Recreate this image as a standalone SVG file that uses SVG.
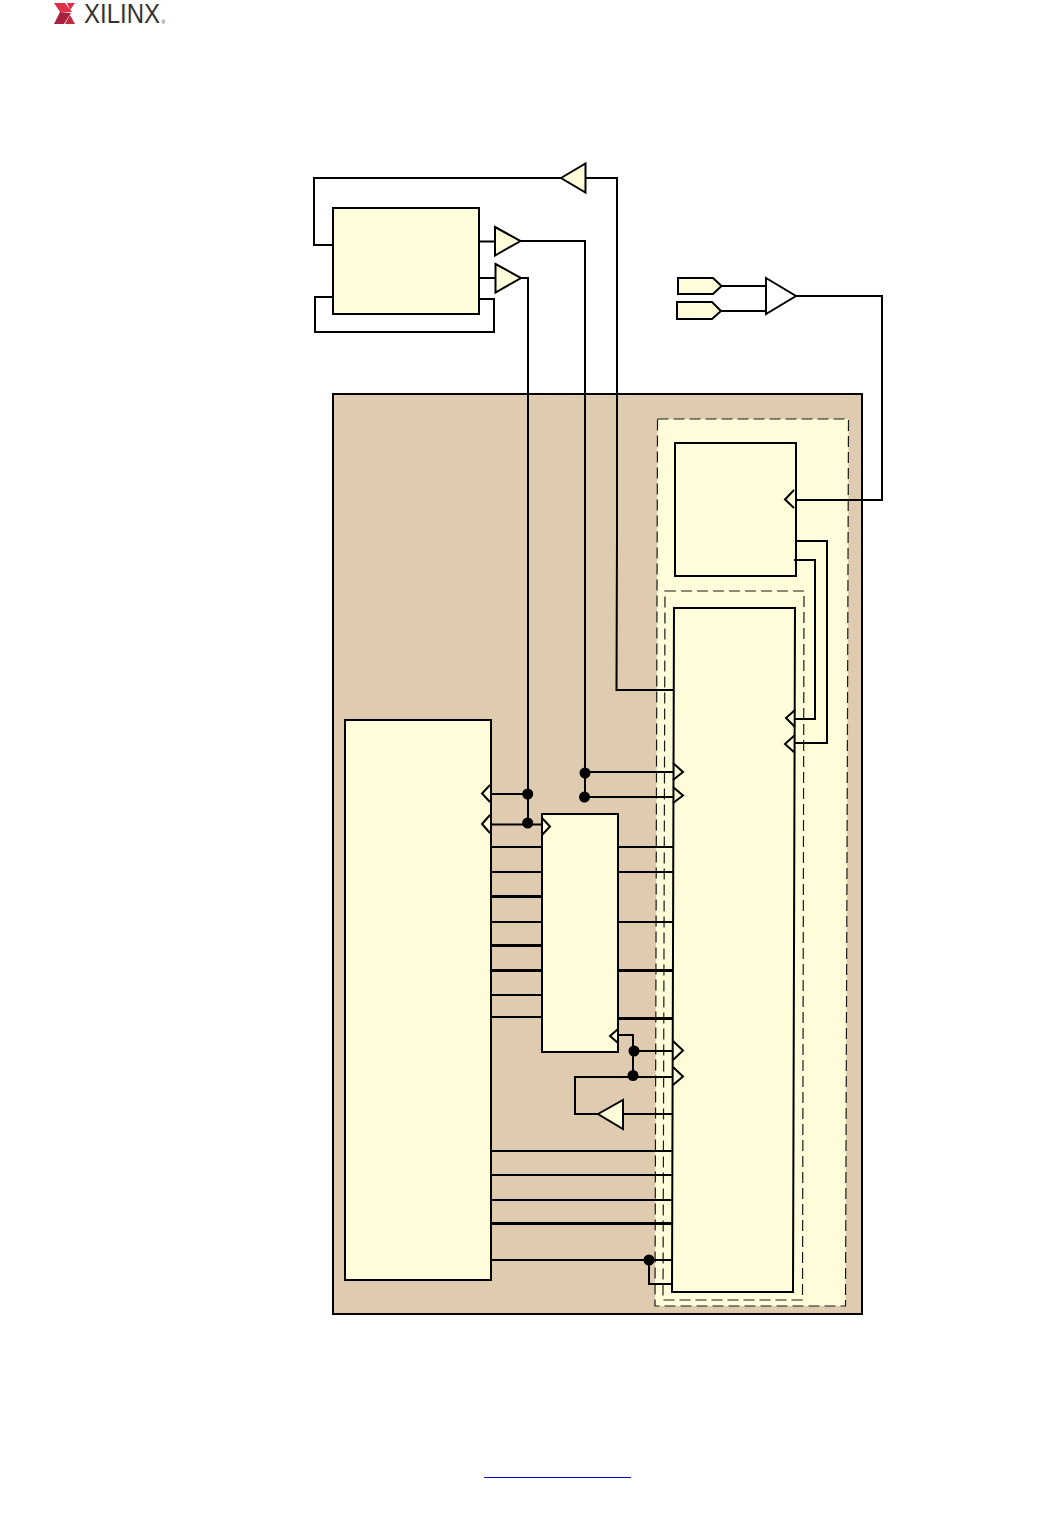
<svg xmlns="http://www.w3.org/2000/svg" width="1062" height="1515" viewBox="0 0 1062 1515">
<style>
.b{fill:#fffcd9;stroke:#000;stroke-width:2}
.w{fill:#fff;stroke:#000;stroke-width:2}
.d{fill:#fffcd9;stroke:#1a1a1a;stroke-width:1.200;stroke-dasharray:11 5}
.c{fill:none;stroke:#000;stroke-width:2}
.t{fill:none;stroke:#000;stroke-width:3}
.n{fill:none;stroke:#000;stroke-width:2}
.j{fill:#000}
</style>
<rect width="1062" height="1515" fill="#fff"/>
<g id="logo">
<polygon points="54,3 65,3 72,12 60,12" fill="#e0304a"/>
<polygon points="67,3 75,3 70,10" fill="#e0304a"/>
<polygon points="60,12 71,13 64,24 54,24" fill="#a8233f"/>
<polygon points="70,15 75,24 65,24" fill="#c0283f"/>
<text x="84" y="23" font-family="'Liberation Sans',Arial,sans-serif" font-size="28" textLength="76" lengthAdjust="spacingAndGlyphs" fill="#333">XILINX</text>
<text x="161.500" y="23.500" font-family="'Liberation Sans',Arial,sans-serif" font-size="5" fill="#333">®</text>
</g>
<g id="fpga-region"><rect x="333" y="394" width="529" height="920" fill="#dfcbb0" stroke="#000" stroke-width="2"/></g>
<g id="outer-dashed"><polygon class="d" points="657.500,419 848.500,419 845.500,1306 655,1306"/></g>
<g id="inner-dashed"><polygon class="d" points="665,591 804,591 802.500,1300 663,1300"/></g>
<g id="ext-block"><rect class="b" x="333" y="208" width="146" height="106"/></g>
<g id="clk-block"><rect class="b" x="675" y="443" width="121" height="133"/></g>
<g id="core-block"><polygon class="b" points="674,608 795,608 793,1292 672,1292"/></g>
<g id="left-block"><rect class="b" x="345" y="720" width="146" height="560"/></g>
<g id="mid-block"><rect class="b" x="542" y="814" width="76" height="238"/></g>
<g id="connectors">
<path class="c" d="M561 178H314V245H333"/>
<path class="c" d="M333 297H315V332H494V299H479"/>
<path class="c" d="M479 241.500H495M521 241H585V797"/>
<path class="c" d="M479 278H495M521 278H528V823"/>
<path class="c" d="M586 178H617V535L616.500 690H674"/>
<path class="c" d="M721 286H766M721 311H766M796 296H882V500H796"/>
<path class="c" d="M796 541H827V743H795"/>
<path class="c" d="M794 560H815V719H795"/>
<path class="c" d="M491 794H528M491 824.500H542"/>
<path class="c" d="M585 772H673M585 797H673"/>
<path class="c" d="M491 847H542M491 872H542M491 922H542M491 995H542M491 1017H542"/>
<path class="t" d="M491 896.500H542M491 945.500H542M491 970.500H542"/>
<path class="c" d="M618 847H673M618 872H673M618 922H673"/>
<path class="t" d="M618 970.500H673M618 1018.500H672"/>
<path class="c" d="M618 1035H633V1076M634 1051H673M575 1077H673M575 1076V1114H598M623 1114H672"/>
<path class="c" d="M491 1151H672M491 1175H672M491 1200H672M491 1260H672M649 1260V1284H672"/>
<path class="t" d="M491 1223.500H672"/>
<path class="n" d="M794 490L785 499.500L794 508"/>
<path class="n" d="M795 710L786 718L795 727"/>
<path class="n" d="M795 735L785 744L795 753"/>
<path class="n" d="M490 785L482 793.500L490 802"/>
<path class="n" d="M490 815L482 824L490 833"/>
<path class="n" d="M542 818L550 826.500L542 835"/>
<path class="n" d="M673 763L683 772L673 780"/>
<path class="n" d="M673 787L683 795.500L673 803"/>
<path class="n" d="M618 1029L610 1036L618 1043"/>
<path class="n" d="M673 1041L683 1050.500L673 1060"/>
<path class="n" d="M673 1067L683 1076.500L673 1085"/>
<circle class="j" cx="527.700" cy="794" r="5.500"/>
<circle class="j" cx="527.700" cy="823" r="5.500"/>
<circle class="j" cx="585" cy="773" r="5.500"/>
<circle class="j" cx="584.500" cy="797" r="5.500"/>
<circle class="j" cx="634" cy="1051" r="5.500"/>
<circle class="j" cx="633" cy="1075.500" r="5.500"/>
<circle class="j" cx="649" cy="1260" r="5.500"/>
</g>
<g id="buf-top"><polygon class="b" points="561,178 585.500,163.500 585.500,192.500"/></g>
<g id="buf-a"><polygon class="b" points="495,227 520.500,241 495,255.500"/></g>
<g id="buf-b"><polygon class="b" points="495.500,264 521,278 495.500,292.500"/></g>
<g id="buf-clk"><polygon class="w" points="766,278 796,296 766,314"/></g>
<g id="buf-fb"><polygon class="b" points="598,1114 623,1100 623,1129"/></g>
<g id="port-p"><polygon class="b" points="678,278 713,278 721.500,286 713,294 678,294"/></g>
<g id="port-n"><polygon class="b" points="677,302 712,302 721,311 712,319 677,319"/></g>
<g id="footer"><line x1="484" y1="1477.500" x2="631" y2="1477.500" stroke="#0000e0" stroke-width="1"/></g>
</svg>
